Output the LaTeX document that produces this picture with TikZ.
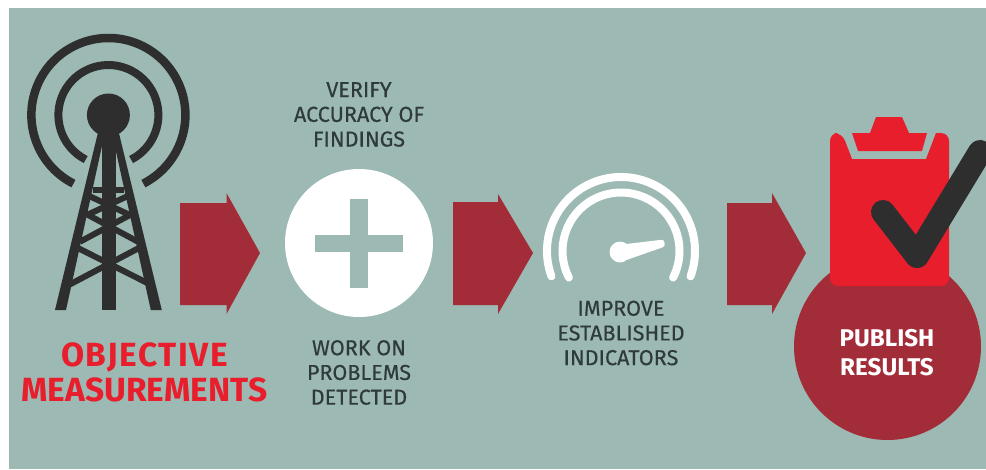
\documentclass[tikz,border=0pt]{standalone}
\usepackage{fontspec}
\setmainfont{Fira Sans}
\newfontfamily\labelfont[FakeBold=0.35]{Fira Sans}
\definecolor{bgc}{HTML}{9CB9B3}
\definecolor{darkred}{HTML}{A22C38}
\definecolor{brightred}{HTML}{E81E2D}
\definecolor{ink}{HTML}{2E2E2E}
\definecolor{labelink}{HTML}{2F3B3B}
\tikzset{
  bigarrow/.style={fill=darkred,draw=none},
  towerline/.style={draw=ink,line width=6pt},
  towerleg/.style={fill=ink,draw=none},
  ring/.style={draw=ink,line width=8.5pt},
  gauge/.style={draw=white,line width=8pt,line cap=round},
  steplabel/.style={text=labelink,align=center,inner sep=0pt,font=\labelfont\fontsize{21.6}{24.7}\selectfont},
  redtitle/.style={text=brightred,align=center,inner sep=0pt,font=\bfseries\fontsize{33.5}{35}\selectfont},
  whitetitle/.style={text=white,align=center,inner sep=0pt,font=\bfseries\fontsize{24.2}{29}\selectfont}
}
\begin{document}
\begin{tikzpicture}[x=1pt,y=-1pt]
\useasboundingbox (0,0) rectangle (986,469);
\fill[white] (0,0) rectangle (986,469);
\fill[bgc] (9,8) rectangle (986,469);
% tower
\draw[ring] (108.4,115) ++(243:77pt) arc[start angle=243,end angle=-63,radius=77pt];
\draw[ring,line width=8pt] (108.4,115) ++(243:50pt) arc[start angle=243,end angle=-63,radius=50pt];
\fill[ink] (108.4,115) circle[radius=21.5pt];
\fill[towerleg] (98.6,130) -- (105.5,130) -- (66,310) -- (55,310) -- cycle;
\fill[towerleg] (118.2,130) -- (111.3,130) -- (150.8,310) -- (161.8,310) -- cycle;
\fill[towerleg] (102,128) rectangle (115.5,310);
\draw[towerline] (93.3,190) -- (123.5,190);
\draw[towerline] (87,195) -- (130,215);
\draw[towerline] (130,195) -- (87,215);
\draw[towerline] (80,241.7) -- (130,215);
\draw[towerline] (85,213.3) -- (138,241.7);
\draw[towerline] (78.5,248.3) -- (148,283.3);
\draw[towerline] (68.8,285) -- (138.3,248.3);
% arrows
\fill[bigarrow] (180,203) -- (226.5,203) -- (226.5,193) -- (260,253) -- (226.5,314) -- (226.5,305) -- (180,305) -- cycle;
\fill[bigarrow] (453,202) -- (498,202) -- (498,194) -- (533,253) -- (498,314) -- (498,305) -- (453,305) -- cycle;
\fill[bigarrow] (727,203) -- (772,203) -- (772,193) -- (806,253) -- (772,314) -- (772,305) -- (727,305) -- cycle;
% plus circle
\fill[white] (359,243) circle[radius=74pt];
\fill[bgc] (350,199) rectangle (368,288);
\fill[bgc] (315,235) rectangle (403,252);
% gauge
\draw[gauge] (621,251) ++(200:74pt) arc[start angle=200,end angle=-20,radius=74pt];
\draw[gauge] (621,251) ++(207:58.5pt) arc[start angle=207,end angle=-27,radius=58.5pt];
\fill[white] (620,252) circle[radius=10.5pt];
\fill[white,rounded corners=2.5pt] (622,244.5) -- (664,239.5) -- (665,246.5) -- (625,260.5) -- cycle;
% publish circle
\fill[darkred] (887.5,346.5) circle[radius=93.5pt];
% clipboard
\fill[brightred] (842,133) -- (852,159) -- (926,159) -- (936,133) [rounded corners=8pt] -- (949,133) -- (949,286) -- (830,286) -- (830,133) -- cycle;
\fill[brightred] (852,133) -- (870,133) -- (876,117) -- (902,117) -- (909,133) -- (927,133) -- (922,151) -- (858,151) -- cycle;
\begin{scope}
\clip (0,0) rectangle (986,469);
\draw[ink,line width=24pt,line cap=round,line join=round] (883,212) -- (917,256) -- (980,152);
\end{scope}
% texts
\node[redtitle] (objective) at (144.5,372) {\addfontfeature{LetterSpace=4.5}OBJECTIVE\\MEASUREMENTS};
\node[steplabel] (verify) at (359,114.5) {VERIFY\\ACCURACY OF\\FINDINGS};
\node[steplabel] (work) at (359,372.5) {WORK ON\\PROBLEMS\\DETECTED};
\node[steplabel] (improve) at (621,333) {IMPROVE\\ESTABLISHED\\INDICATORS};
\node[whitetitle] (publish) at (887,352.5) {PUBLISH\\RESULTS};
\end{tikzpicture}
\end{document}
